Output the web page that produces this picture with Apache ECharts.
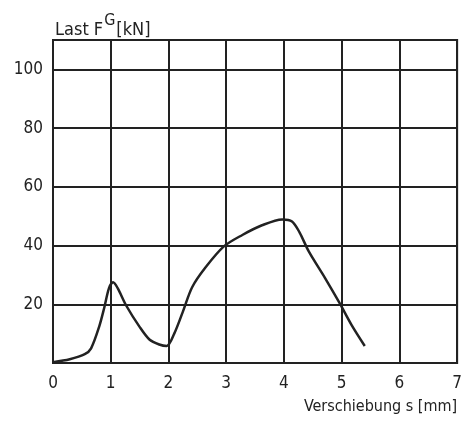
<!DOCTYPE html>
<html>
<head>
<meta charset="utf-8">
<script src="https://cdn.jsdelivr.net/npm/echarts@6/dist/echarts.min.js"></script>
<style>
  html, body { margin: 0; padding: 0; background: #fff; }
  #chart { width: 465px; height: 421px; }
</style>
</head>
<body>
<div id="chart"></div>
<script>
// Verschiebung s [mm]
var sValues = [0, 0.29, 0.55, 0.66, 0.8, 0.89, 0.97, 1.04, 1.12, 1.27, 1.5, 1.67, 1.84, 1.97,
  2.1, 2.25, 2.41, 2.64, 2.96, 3.28, 3.62, 3.97, 4.14, 4.27, 4.43, 4.71, 4.97, 5.17, 5.4];
// Last F^G [kN]
var loadValues = [0.3, 1.3, 3, 5, 12.4, 19, 25.5, 27.5, 25.5, 19.5, 12.3, 8, 6.3, 5.8,
  10, 17.5, 25.8, 32.5, 39.7, 43.6, 46.9, 48.9, 48.2, 44.5, 38, 29, 20.2, 13, 5.8];
var yTickLabels = [20, 40, 60, 80, 100];
var xTickLabels = [0, 1, 2, 3, 4, 5, 6, 7];

var font = "DejaVu Sans Condensed";
var chart = echarts.init(document.getElementById("chart"));

var option = {
  animation: false,
  backgroundColor: "#fff",
  title: {
    text: "{a|Last F}{b|G}{a|[kN]}",
    left: 50,
    top: 8,
    textStyle: {
      rich: {
        a: { fontFamily: font, fontSize: 18, fontWeight: "normal", color: "#222", verticalAlign: "bottom", lineHeight: 26 },
        b: { fontFamily: font, fontSize: 16, fontWeight: "normal", color: "#222", verticalAlign: "top", lineHeight: 26, padding: [0, 1, 8, 1] }
      }
    }
  },
  grid: {
    left: 53, right: 7, top: 40, bottom: 58,
    show: true, borderColor: "#222", borderWidth: 2
  },
  xAxis: {
    type: "value",
    min: 0, max: 7, interval: 1,
    name: "Verschiebung s [mm]",
    nameLocation: "end",
    nameGap: 0,
    nameTextStyle: { fontFamily: font, fontSize: 16, color: "#222", align: "right", verticalAlign: "top", padding: [36, 0, 0, 0] },
    axisLine: { lineStyle: { color: "#222", width: 2 } },
    axisTick: { show: false },
    splitLine: { lineStyle: { color: "#222", width: 2 } },
    axisLabel: {
      fontFamily: font, fontSize: 17, color: "#222", margin: 12,
      formatter: function (v) { return xTickLabels.indexOf(v) >= 0 ? String(v) : ""; }
    }
  },
  yAxis: {
    type: "value",
    min: 0, max: 110, interval: 20,
    axisLine: { lineStyle: { color: "#222", width: 2 } },
    axisTick: { show: false },
    splitLine: { lineStyle: { color: "#222", width: 2 } },
    axisLabel: {
      fontFamily: font, fontSize: 17, color: "#222", margin: 10,
      formatter: function (v) { return yTickLabels.indexOf(v) >= 0 ? String(v) : ""; }
    }
  },
  series: [{
    type: "line",
    data: sValues.map(function (s, i) { return [s, loadValues[i]]; }),
    smooth: 0.3,
    symbol: "none",
    lineStyle: { color: "#222", width: 2.5 }
  }]
};
chart.setOption(option);
</script>
</body>
</html>
